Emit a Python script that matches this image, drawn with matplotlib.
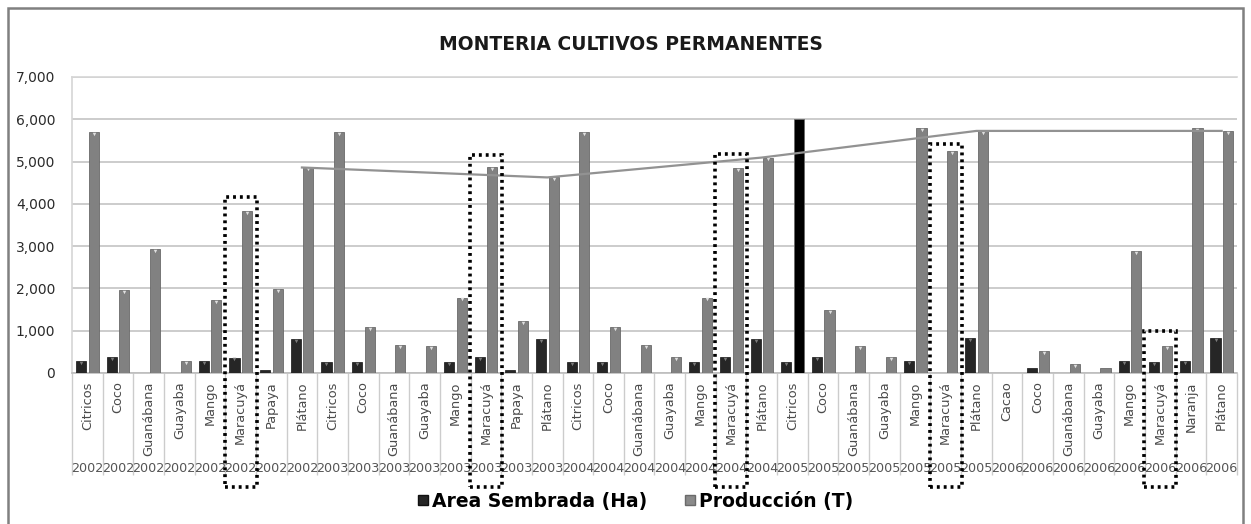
import numpy as np
import matplotlib
matplotlib.use("Agg")
import matplotlib.pyplot as plt
from matplotlib.patches import Rectangle, Patch

# datos
years = [2002] * 8 + [2003] * 8 + [2004] * 7 + [2005] * 7 + [2006] * 8
crops = ["Citricos", "Coco", "Guanábana", "Guayaba", "Mango", "Maracuyá", "Papaya", "Plátano",
         "Citricos", "Coco", "Guanábana", "Guayaba", "Mango", "Maracuyá", "Papaya", "Plátano",
         "Citricos", "Coco", "Guanábana", "Guayaba", "Mango", "Maracuyá", "Plátano",
         "Citricos", "Coco", "Guanábana", "Guayaba", "Mango", "Maracuyá", "Plátano",
         "Cacao", "Coco", "Guanábana", "Guayaba", "Mango", "Maracuyá", "Naranja", "Plátano"]
area = [280, 375, 0, 0, 280, 365, 80, 795,
        255, 255, 0, 0, 255, 375, 80, 795,
        255, 255, 0, 0, 255, 375, 795,
        255, 375, 0, 0, 275, 0, 825,
        0, 120, 0, 0, 275, 255, 275, 825]
produccion = [5700, 1960, 2925, 285, 1730, 3820, 1980, 4860,
              5700, 1080, 670, 640, 1785, 4860, 1235, 4625,
              5700, 1080, 655, 375, 1785, 4850, 5095,
              6000, 1495, 640, 375, 5800, 5250, 5725,
              0, 520, 220, 125, 2875, 640, 5800, 5725]
# tope de los recuadros punteados (Maracuyá de cada año)
box_tops = [4170, 5160, 5190, 5420, 990]

title = "MONTERIA CULTIVOS PERMANENTES"
yticks = [0, 1000, 2000, 3000, 4000, 5000, 6000, 7000]

W, H = 1251, 524
fig = plt.figure(figsize=(W / 100, H / 100), dpi=100)
ax = fig.add_axes([72 / W, 1 - 373 / H, (1237 - 72) / W, (373 - 77) / H])

n = len(crops)
x = np.arange(n)
bw = 0.33
prod_colors = ["#000000" if (c == "Citricos" and y == 2005) else "#818181"
               for c, y in zip(crops, years)]

ax.bar(x - 0.2, area, width=bw, color="#262626", edgecolor="#111111", linewidth=0.5, zorder=3)
ax.bar(x + 0.21, produccion, width=bw, color=prod_colors, edgecolor="#6a6a6a", linewidth=0.6, zorder=3)

# pequeños triangulos claros en el tope de las barras
for xi, a in zip(x, area):
    if a > 150:
        ax.plot(xi - 0.2, a - 45, marker="v", ms=2.5, color="#7a7a7a", mec="none", zorder=4)
for xi, p, c in zip(x, produccion, prod_colors):
    if p > 150 and c != "#000000":
        ax.plot(xi + 0.21, p - 45, marker="v", ms=2.5, color="#e0e0e0", mec="none", zorder=4)

# linea de Plátano
pl_idx = [i for i, c in enumerate(crops) if c == "Plátano"]
ax.plot(pl_idx, [produccion[i] for i in pl_idx], color="#929292", lw=1.6, zorder=5)

ax.set_xlim(-0.5, n - 0.5)
ax.set_ylim(0, 7000)
ax.set_yticks(yticks)
ax.set_yticklabels([f"{v:,}" for v in yticks], fontsize=10, color="#2a2a2a")
ax.tick_params(axis="y", length=0, pad=12)
ax.yaxis.grid(True, color="#c4c4c4", lw=1.2, zorder=0)
ax.set_axisbelow(True)
for s in ["top", "left"]:
    ax.spines[s].set_color("#d6d6d6")
    ax.spines[s].set_linewidth(1.2)
ax.spines["right"].set_visible(False)
ax.spines["bottom"].set_color("#bdbdbd")
ax.spines["bottom"].set_linewidth(1.2)

# eje de categorias de dos niveles
ax.set_xticks(x)
ax.set_xticklabels(crops, rotation=90, fontsize=9.3, color="#4a4a4a", va="top")
ax.tick_params(axis="x", length=0, pad=6)
px = 7000 / (373 - 77)
ax.vlines(np.arange(n + 1) - 0.5, -102 * px, 0, colors="#cccccc", lw=1.0, clip_on=False)
for xi, yr in zip(x, years):
    ax.text(xi, -95 * px, str(yr), ha="center", va="center", fontsize=9.2, color="#555555")

# recuadros punteados alrededor de Maracuyá
mar_idx = [i for i, c in enumerate(crops) if c == "Maracuyá"]
for i, top in zip(mar_idx, box_tops):
    bottom = -114 * px
    ax.add_patch(Rectangle((i - 0.52, bottom), 1.04, top - bottom, fill=False,
                           edgecolor="black", lw=2.6, linestyle=(0, (0.8, 1.1)),
                           clip_on=False, zorder=6))

fig.text(631 / W, 1 - 44 / H, title, ha="center", va="center",
         fontsize=13.5, fontweight="bold", color="#1a1a1a")

handles = [Patch(facecolor="#262626", edgecolor="#111111"),
           Patch(facecolor="#8a8a8a", edgecolor="#6a6a6a")]
fig.legend(handles, ["Area Sembrada (Ha)", "Producción (T)"], loc="center",
           bbox_to_anchor=(636 / W, 1 - 501 / H), ncol=2, frameon=False,
           prop={"weight": "bold", "size": 13.5}, handlelength=0.5, handleheight=0.5,
           handletextpad=0.25, columnspacing=2.0)

fig.patches.append(Rectangle((8 / W, -0.02), (1243 - 8) / W, 1 - 8 / H + 0.02,
                             transform=fig.transFigure, fill=False,
                             edgecolor="#808080", lw=1.8))

fig.savefig("out.png", dpi=100)
